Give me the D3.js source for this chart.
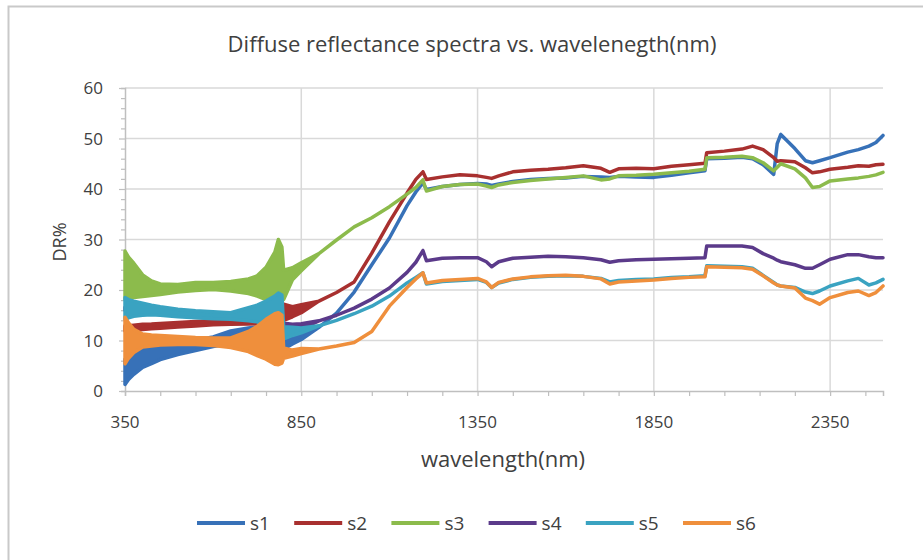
<!DOCTYPE html>
<html>
<head>
<meta charset="utf-8">
<script src="https://cdn.jsdelivr.net/npm/d3@7/dist/d3.min.js"></script>
<style>
  body { margin: 0; background: #fff; }
  text { font-family: "Open Sans", "Noto Sans", sans-serif; fill: #404040; }
</style>
</head>
<body>
<div id="main"></div>
<script>
// wavelength grid (nm)
const wl = [350, 360, 375, 400, 425, 450, 500, 550, 600, 650, 700, 725, 750, 775, 785, 795, 800, 825, 850,
            900, 950, 1000, 1050, 1100, 1150, 1175, 1195, 1205, 1250, 1300, 1350, 1375, 1390, 1410, 1450,
            1500, 1550, 1600, 1650, 1700, 1725, 1750, 1800, 1850, 1900, 1950, 1995, 2000, 2050, 2100,
            2130, 2160, 2190, 2200, 2210, 2250, 2280, 2300, 2320, 2350, 2400, 2430, 2460, 2480, 2500];

const names = ['s1', 's2', 's3', 's4', 's5', 's6'];

// DR% values
const s1 = [3.8, 4.65, 5.55, 6.6, 7.15, 7.7, 8.45, 9.05, 9.75, 10.65, 11.25, 11.45, 11.6, 11.75, 11.8, 11.8, 10.1, 10.3, 10.9,
            12.6, 15.4, 19.6, 25.0, 30.3, 36.7, 39.4, 41.2, 39.9, 40.5, 40.9, 41.1, 41.0, 40.7, 41.0, 41.5,
            41.9, 42.1, 42.2, 42.5, 42.4, 42.3, 42.5, 42.4, 42.3, 42.7, 43.2, 43.6, 46.0, 46.1, 46.3,
            46.0, 44.8, 42.9, 49.0, 50.8, 48.0, 45.6, 45.2, 45.6, 46.2, 47.3, 47.8, 48.5, 49.2, 50.6];
const s2 = [12.4, 12.4, 12.5, 12.7, 12.8, 12.9, 13.1, 13.3, 13.5, 13.6, 13.7, 13.8, 14.0, 14.2, 14.3, 14.4, 15.6, 15.7, 16.3,
            17.8, 19.5, 21.6, 27.3, 33.5, 39.2, 41.9, 43.4, 41.9, 42.4, 42.8, 42.6, 42.3, 42.1, 42.6, 43.4,
            43.7, 43.9, 44.2, 44.6, 44.1, 43.3, 44.0, 44.1, 44.0, 44.5, 44.8, 45.1, 47.2, 47.5, 47.9,
            48.5, 47.8, 46.2, 45.5, 45.6, 45.4, 44.2, 43.2, 43.4, 43.9, 44.3, 44.6, 44.5, 44.8, 44.9];
const s3 = [22.9, 22.4, 21.9, 20.85, 20.35, 20.15, 20.35, 20.7, 20.8, 20.75, 20.75, 20.8, 21.3, 22.55, 23.75, 23.25, 21.0, 23.2, 24.6,
            27.2, 29.9, 32.5, 34.3, 36.5, 39.0, 40.3, 41.8, 39.6, 40.5, 40.9, 41.0, 40.6, 40.3, 40.8, 41.3,
            41.7, 42.0, 42.3, 42.6, 41.8, 42.0, 42.6, 42.7, 42.9, 43.2, 43.5, 43.9, 46.2, 46.3, 46.5,
            46.2, 45.2, 43.6, 44.3, 45.0, 44.0, 42.2, 40.3, 40.5, 41.6, 42.0, 42.2, 42.5, 42.8, 43.3];
const s4 = [16.3, 16.3, 16.3, 16.2, 16.05, 15.85, 15.45, 15.2, 15.0, 14.85, 15.2, 15.35, 15.35, 15.15, 15.15, 15.0, 12.4, 12.5, 12.8,
            13.9, 15.0, 16.4, 18.2, 20.4, 23.5, 25.5, 27.8, 25.8, 26.3, 26.4, 26.4, 25.6, 24.6, 25.6, 26.3,
            26.5, 26.7, 26.6, 26.4, 26.0, 25.5, 25.8, 26.0, 26.1, 26.2, 26.3, 26.4, 28.7, 28.7, 28.7,
            28.4, 27.2, 26.3, 25.9, 25.6, 25.0, 24.3, 24.3, 25.0, 26.1, 27.0, 27.0, 26.6, 26.4, 26.4];
const s5 = [16.35, 16.3, 16.3, 16.2, 16.05, 15.85, 15.45, 15.2, 15.0, 14.85, 15.2, 15.35, 15.35, 15.15, 15.15, 15.0, 11.5, 11.8, 12.0,
            12.9, 14.0, 15.3, 16.8, 18.8, 21.4, 22.5, 23.4, 21.2, 21.7, 21.9, 22.1, 21.5, 20.5, 21.4, 22.1,
            22.5, 22.7, 22.8, 22.7, 22.3, 21.6, 21.9, 22.1, 22.2, 22.5, 22.6, 22.8, 24.8, 24.7, 24.6,
            24.3, 22.9, 21.5, 21.0, 20.8, 20.5, 19.6, 19.3, 19.8, 20.8, 21.8, 22.3, 21.0, 21.4, 22.1];
const s6 = [10.0, 10.0, 9.9, 10.0, 10.0, 10.05, 10.0, 9.9, 9.75, 9.55, 9.8, 9.9, 10.25, 10.3, 10.35, 10.25, 7.5, 7.5, 7.9,
            8.3, 8.9, 9.6, 11.8, 16.8, 20.5, 22.2, 23.4, 21.4, 21.9, 22.1, 22.3, 21.6, 20.5, 21.5, 22.2,
            22.6, 22.8, 22.9, 22.7, 22.2, 21.2, 21.6, 21.8, 22.0, 22.3, 22.5, 22.6, 24.6, 24.5, 24.4,
            24.1, 22.8, 21.4, 21.0, 20.8, 20.4, 18.4, 17.9, 17.2, 18.5, 19.5, 19.8, 18.9, 19.5, 20.8];

// half width of the noisy band, 350-850 nm
const s1Noise = [2.5, 2.35, 2.25, 1.9, 1.75, 1.5, 1.25, 1.05, 0.95, 1.25, 1.25, 1.25, 1.4, 1.75, 1.8, 1.8, 1.8, 1.0, 0.7];
const s2Noise = [0.5, 0.5, 0.5, 0.5, 0.45, 0.45, 0.45, 0.45, 0.4, 0.4, 0.45, 0.5, 0.6, 0.7, 0.7, 0.7, 1.6, 1.0, 0.8];
const s3Noise = [4.8, 4.1, 3.4, 2.15, 1.45, 1.05, 0.75, 0.8, 0.7, 0.95, 1.45, 2.0, 3.2, 4.95, 6.25, 5.25, 2.9, 1.2, 0.8];
const s4Noise = [0.3, 0.3, 0.3, 0.3, 0.3, 0.3, 0.3, 0.3, 0.3, 0.3, 0.3, 0.3, 0.3, 0.3, 0.3, 0.3, 1.0, 0.7, 0.5];
const s5Noise = [2.15, 1.8, 1.5, 1.2, 0.95, 0.85, 0.75, 0.7, 0.7, 0.65, 1.3, 1.65, 2.45, 3.65, 4.25, 4.0, 1.2, 0.8, 0.5];
const s6Noise = [4.6, 3.5, 2.3, 1.3, 1.1, 0.95, 0.8, 0.7, 0.75, 0.95, 2.0, 2.9, 3.95, 5.0, 5.15, 4.75, 1.0, 0.6, 0.5];

const xTicks = [350, 850, 1350, 1850, 2350];
const yTicks = [0, 10, 20, 30, 40, 50, 60];

const series = [s1, s2, s3, s4, s5, s6];
const noises = [s1Noise, s2Noise, s3Noise, s4Noise, s5Noise, s6Noise];
const colors = ['#3771b8', '#a8302f', '#8cbb4c', '#5b3a8a', '#3aa3c1', '#ef8f3c'];

const W = 923, H = 560;
const svg = d3.select('#main').append('svg')
    .attr('width', W).attr('height', H);

svg.append('rect').attr('width', W).attr('height', H).attr('fill', '#fff');
// chart border (only top/left visible in the picture)
svg.append('rect')
    .attr('x', 8.5).attr('y', 6.5).attr('width', 1000).attr('height', 1000)
    .attr('fill', 'none').attr('stroke', '#c9c9c9').attr('stroke-width', 2);

const x = d3.scaleLinear().domain([350, 2500]).range([125, 883]);
const y = d3.scaleLinear().domain([0, 60]).range([391, 88]);

// grid
const g = svg.append('g');
g.selectAll('.hgrid').data(yTicks.filter(d => d > 0)).enter().append('line')
    .attr('x1', x(350)).attr('x2', x(2500))
    .attr('y1', d => y(d)).attr('y2', d => y(d))
    .attr('stroke', '#d9d9d9').attr('stroke-width', 1.5);
g.selectAll('.vgrid').data(xTicks.slice(1)).enter().append('line')
    .attr('x1', d => x(d)).attr('x2', d => x(d))
    .attr('y1', y(0)).attr('y2', y(60))
    .attr('stroke', '#d9d9d9').attr('stroke-width', 1.5);

// axes
const xAxis = d3.axisBottom(x).tickValues(d3.range(350, 2500, 100)).tickSize(5).tickFormat('');
const yAxis = d3.axisLeft(y).tickValues(d3.range(0, 61, 2)).tickSize(4).tickFormat('');

const gx = svg.append('g').attr('transform', 'translate(0,' + y(0) + ')').call(xAxis);
const gy = svg.append('g').attr('transform', 'translate(' + x(350) + ',0)').call(yAxis);
[gx, gy].forEach(a => {
    a.select('.domain').attr('stroke', '#bfbfbf').attr('stroke-width', 1.5);
    a.selectAll('.tick line').attr('stroke', '#bfbfbf').attr('stroke-width', 1.2);
});
gy.selectAll('.tick line').attr('x2', d => d % 10 === 0 ? -6 : -4);

svg.selectAll('.xlab').data(xTicks).enter().append('text')
    .attr('x', d => x(d)).attr('y', 428)
    .attr('text-anchor', 'middle').attr('font-size', 17)
    .text(d => d);
svg.selectAll('.ylab').data(yTicks).enter().append('text')
    .attr('x', 103).attr('y', d => y(d) + 6)
    .attr('text-anchor', 'end').attr('font-size', 17)
    .text(d => d);

// spectra
const area = d3.area()
    .x(d => x(d.w))
    .y0(d => y(d.v - d.n))
    .y1(d => y(d.v + d.n));

series.forEach((s, k) => {
    const pts = wl.map((w, i) => ({ w: w, v: s[i], n: noises[k][i] || 0 }));
    svg.append('path')
        .datum(pts)
        .attr('d', area)
        .attr('fill', colors[k])
        .attr('stroke', colors[k])
        .attr('stroke-width', 3.5)
        .attr('stroke-linejoin', 'round');
});

// titles
svg.append('text')
    .attr('x', 472).attr('y', 52)
    .attr('text-anchor', 'middle').attr('font-size', 22)
    .text('Diffuse reflectance spectra vs. wavelenegth(nm)');
svg.append('text')
    .attr('x', 503).attr('y', 467)
    .attr('text-anchor', 'middle').attr('font-size', 22)
    .text('wavelength(nm)');
svg.append('text')
    .attr('transform', 'translate(66,242) rotate(-90)')
    .attr('text-anchor', 'middle').attr('font-size', 18)
    .text('DR%');

// legend
const lg = svg.selectAll('.legend').data(names).enter().append('g')
    .attr('transform', (d, i) => 'translate(' + (197 + i * 97.2) + ',523)');
lg.append('line')
    .attr('x1', 0).attr('x2', 48)
    .attr('stroke', (d, i) => colors[i]).attr('stroke-width', 4);
lg.append('text')
    .attr('x', 53).attr('y', 7).attr('font-size', 19)
    .text(d => d);
</script>
</body>
</html>
